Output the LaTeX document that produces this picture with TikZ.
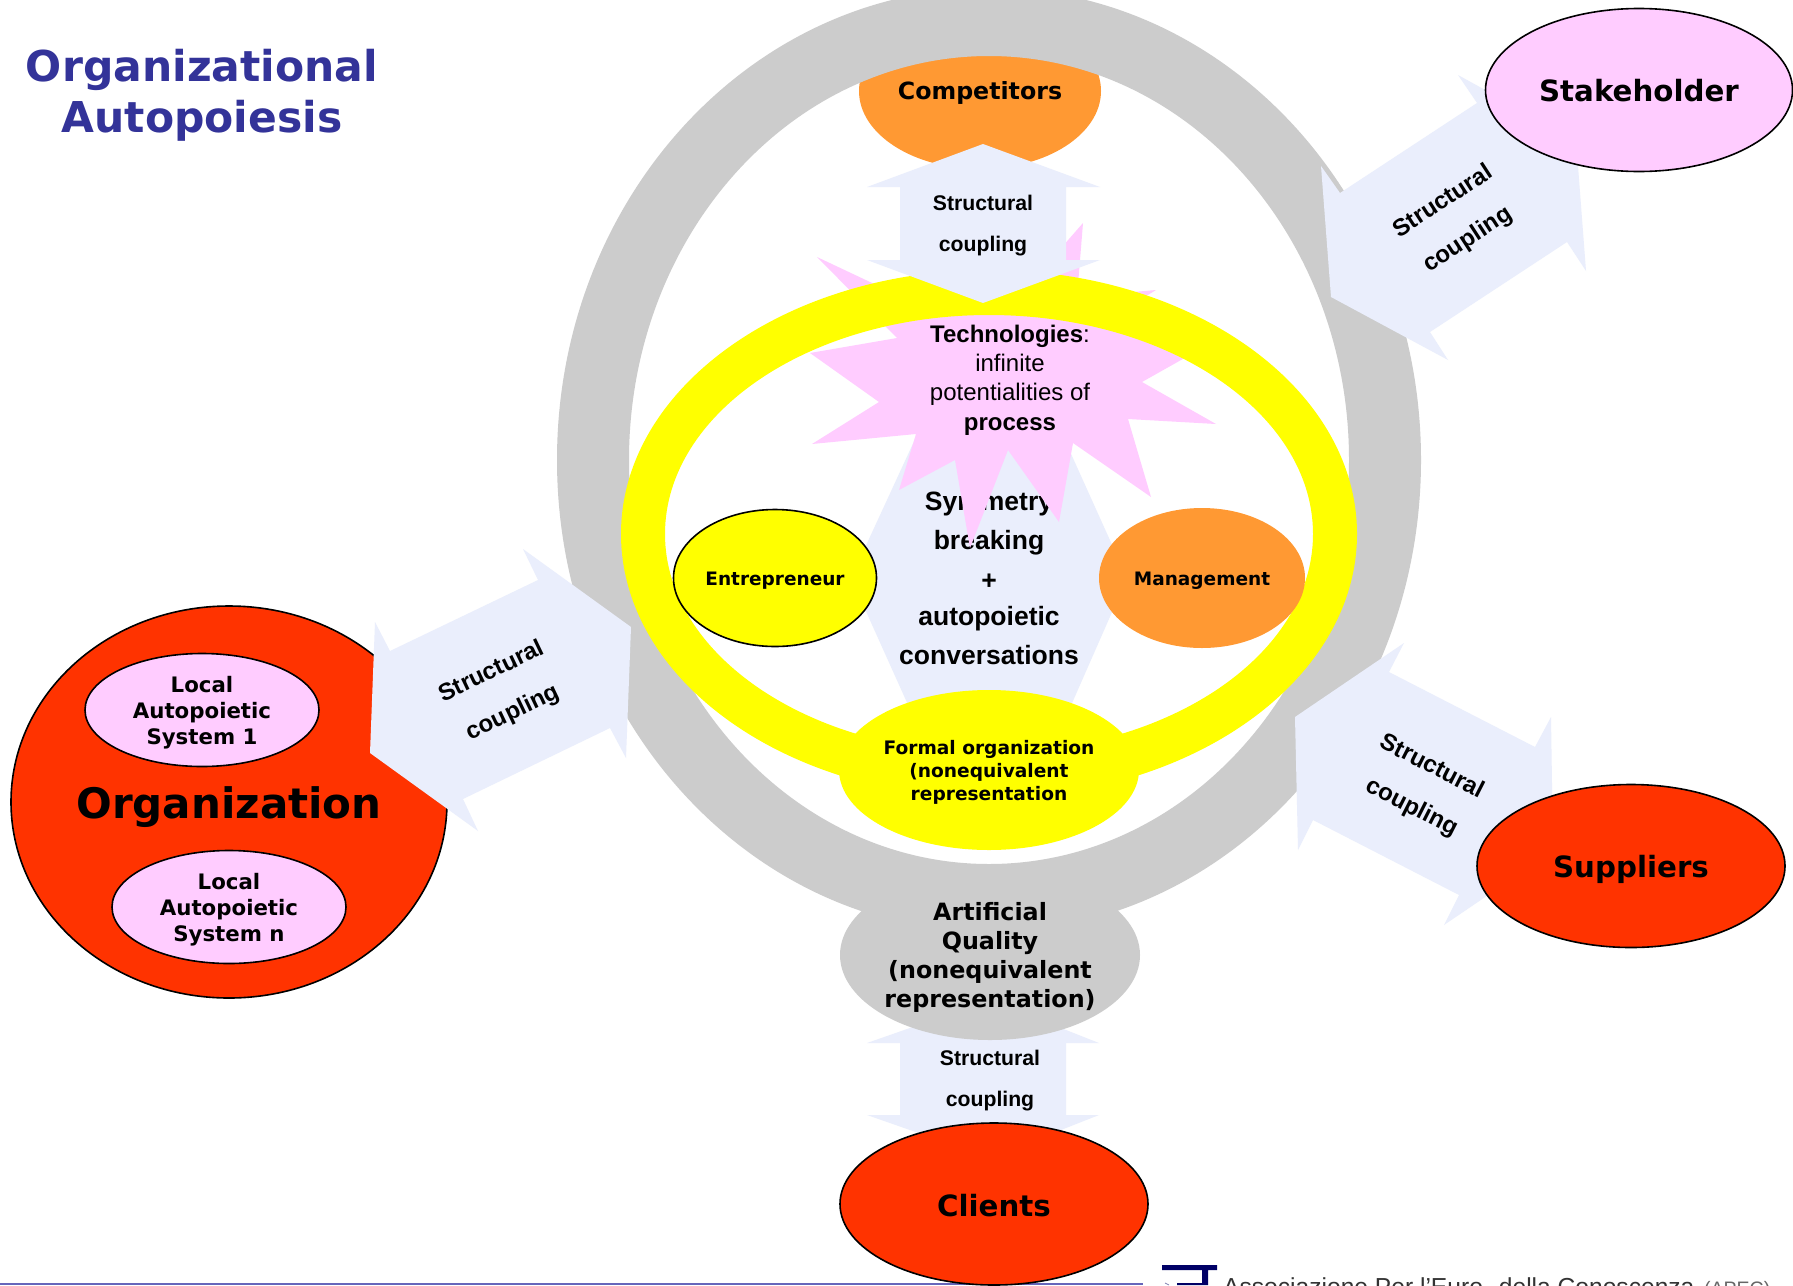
\documentclass[tikz,border=0pt]{standalone}
\usepackage{fontspec}
\setmainfont{Liberation Sans}
\newfontfamily\vfont{DejaVu Sans}
\usetikzlibrary{shapes.geometric}
\definecolor{ringgrey}{HTML}{CCCCCC}
\definecolor{orangeC}{HTML}{FF9933}
\definecolor{redC}{HTML}{FF3300}
\definecolor{pinkC}{HTML}{FFCCFF}
\definecolor{yellowC}{HTML}{FFFF00}
\definecolor{paleC}{HTML}{EAEEFC}
\definecolor{titleC}{HTML}{333399}
\definecolor{lineC}{HTML}{6666BB}
\definecolor{navyC}{HTML}{000066}
\tikzset{
  x=1pt,y=-1pt,
  blob/.style={ellipse,inner sep=0pt,outer sep=0pt,text width=0pt},
  bordered/.style={blob,draw=black,line width=1.6pt},
  palearrow/.style={fill=paleC,draw=none},
  vlabel/.style={font=\vfont\bfseries\fontsize{#1}{#1}\selectfont,align=center,inner sep=0pt,text=black},
  alabel/.style={font=\bfseries\fontsize{#1}{#1}\selectfont,align=center,inner sep=0pt,text=black}
}
\newcommand{\elli}[7]{\node[#1,fill=#2,minimum width=#5pt,minimum height=#6pt] (#7) at (#3,#4) {};}
\begin{document}
\begin{tikzpicture}
\useasboundingbox (0,0) rectangle (1793,1285);
\clip (0,0) rectangle (1793,1285);
\fill[white] (0,0) rectangle (1793,1285);

% footer
\fill[lineC] (0,1283) rectangle (1143,1285);
\fill[navyC] (1162,1265) rectangle (1217,1270) (1202,1270) rectangle (1208,1285) (1177,1283) rectangle (1208,1285);
\draw[navyC!50,line width=0.8pt] (1165,1283) -- (1169,1285);
\node[font=\fontsize{24.6}{24.6}\selectfont,text=black!80,anchor=base west,inner sep=0pt] (footer) at (1223,1295) {Associazione Per l'Euro. della Conoscenza};
\node[font=\fontsize{19.5}{19.5}\selectfont,text=black!60,anchor=base west,inner sep=0pt] (apec) at (1704,1295) {(APEC)};

% competitors below ring
\elli{blob}{orangeC}{980}{91}{242}{156}{competitors}

% grey ring
\fill[ringgrey,even odd rule] (989,460) ellipse [x radius=432pt,y radius=472pt]
  (989,460) ellipse [x radius=360pt,y radius=404pt];

% centre arrow
\fill[palearrow] (851,578) -- (940,385) -- (1040,385) -- (1127,578) -- (1040,776) -- (940,776) -- cycle;
\node[alabel=26.5] (sym1) at (989,504) {Symmetry};
\node[alabel=26.5] (sym2) at (989,543) {breaking};
\node[alabel=26.5] (sym3) at (989,582) {+};
\node[alabel=26.5] (sym4) at (989,619) {autopoietic};
\node[alabel=26.5] (sym5) at (989,655) {conversations};

% star
\fill[pinkC] (1083,223) -- (1077,297) -- (1156,290) -- (1107,320) -- (1213,342) -- (1142,382)
 -- (1216,424) -- (1128,419) -- (1151,497) -- (1073,443) -- (1059,522) -- (1008,450)
 -- (970,548) -- (955,460) -- (899,490) -- (916,434) -- (812,444) -- (879,402) -- (810,353)
 -- (897,338) -- (817,257) -- (923,307) -- (1013,303) -- cycle;

% yellow ring
\fill[yellowC,even odd rule] (989,534) ellipse [x radius=368pt,y radius=264pt]
  (989,534) ellipse [x radius=324pt,y radius=219pt];

\node[font=\fontsize{24}{29.2}\selectfont,align=center,inner sep=0pt,text=black] (tech) at (1010,380)
  {\textbf{Technologies}:\\infinite\\potentialities of\\\textbf{process}};

% inner ellipses
\elli{blob}{yellowC}{989}{770}{300}{160}{formal}
\node[vlabel=18.6] (formalt) at (989,772) {Formal organization\\[4.4pt](nonequivalent\\[4.4pt]representation};
\elli{bordered}{yellowC}{775}{578}{203}{137}{entre}
\node[vlabel=18.5] (entret) at (775,581) {Entrepreneur};
\elli{blob}{orangeC}{1202}{578}{206}{140}{mgmt}
\node[vlabel=18.5] (mgmtt) at (1202,581) {Management};

% artificial quality
\fill[palearrow] (990,1000) -- (1099,1043) -- (1066,1043) -- (1066,1115) -- (1099,1115) -- (990,1158)
  -- (867,1115) -- (900,1115) -- (900,1043) -- (867,1043) -- cycle;
\elli{blob}{ringgrey}{990}{955}{300}{170}{artificial}
\node[vlabel=23.8] (artt) at (990,957) {Artificial\\[5.2pt]Quality\\[5.2pt](nonequivalent\\[5.2pt]representation)};

% organization
\elli{bordered}{redC}{229}{802}{436}{392}{org}
\elli{bordered}{pinkC}{202}{710}{234}{113}{local1}
\elli{bordered}{pinkC}{229}{907}{234}{113}{localn}
\node[vlabel=21.3] (local1t) at (202,713) {Local\\[4.7pt]Autopoietic\\[4.7pt]System 1};
\node[vlabel=21.3] (localnt) at (229,910) {Local\\[4.7pt]Autopoietic\\[4.7pt]System n};
\node[vlabel=42] (orgt) at (229,807) {Organization};

% arrows
\fill[palearrow] (523,549) -- (538,580) -- (390,651) -- (375,622) -- (370,753) -- (478,831) -- (463,799) -- (610,728) -- (626,758) -- (631,627) -- cycle;
\fill[palearrow] (1458,75) -- (1477,103) -- (1340,193) -- (1321,166) -- (1331,297) -- (1448,360) -- (1430,332) -- (1567,242) -- (1586,271) -- (1576,140) -- cycle;
\fill[palearrow] (1404,643) -- (1389,672) -- (1535,747) -- (1551,717) -- (1553,851) -- (1444,925) -- (1459,895) -- (1313,820) -- (1298,850) -- (1295,717) -- cycle;
\fill[palearrow] (983,144) -- (1100,187) -- (1066,187) -- (1066,260) -- (1100,260) -- (983,303) -- (867,260) -- (900,260) -- (900,187) -- (867,187) -- cycle;

% end ellipses
\elli{bordered}{pinkC}{1639}{90}{307}{163}{stake}
\elli{bordered}{redC}{1631}{866}{308}{163}{supp}
\elli{bordered}{redC}{994}{1204}{308}{162}{clients}

\node[vlabel=23.7] (compt) at (980,93) {Competitors};
\node[vlabel=29.3] (staket) at (1639,91) {Stakeholder};
\node[vlabel=29.3] (suppt) at (1631,869) {Suppliers};
\node[vlabel=29.3] (clientst) at (994,1206) {Clients};

\node[alabel=21.2] (s1a) at (983,203) {Structural};
\node[alabel=21.2] (s1b) at (983,246) {coupling};
\node[alabel=21.2] (s2a) at (990,1058) {Structural};
\node[alabel=21.2] (s2b) at (990,1101) {coupling};
\node[alabel=24,rotate=25.5] (s3a) at (491,670) {Structural};
\node[alabel=24,rotate=25.5] (s3b) at (513,713) {coupling};
\node[alabel=24,rotate=33] (s4a) at (1442,200) {Structural};
\node[alabel=24,rotate=33] (s4b) at (1468,240) {coupling};
\node[alabel=24,rotate=-27] (s5a) at (1433,765) {Structural};
\node[alabel=24,rotate=-27] (s5b) at (1412,808) {coupling};

% title
\node[font=\vfont\bfseries\fontsize{42.5}{51}\selectfont,align=center,text=titleC,inner sep=0pt] (title) at (202,95) {Organizational\\Autopoiesis};
\end{tikzpicture}
\end{document}
